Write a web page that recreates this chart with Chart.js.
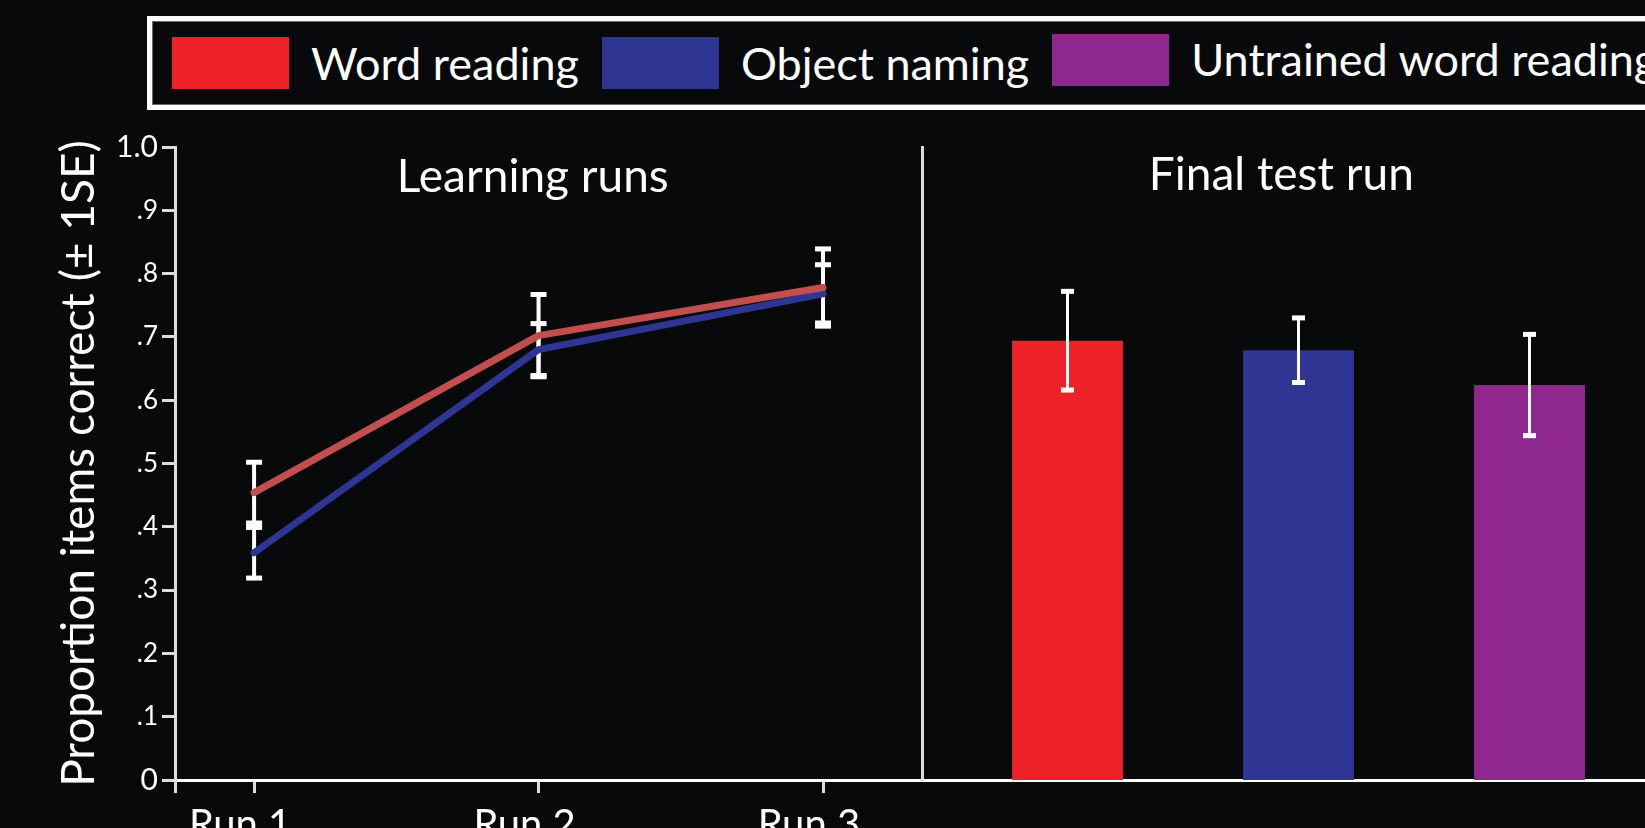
<!DOCTYPE html>
<html>
<head>
<meta charset="utf-8">
<script src="https://cdn.jsdelivr.net/npm/chart.js@4"></script>
<style>
  html, body { margin:0; padding:0; width:1645px; height:828px; overflow:hidden; background:#08090a; }
  #legend { position:absolute; left:147px; top:16px; width:1600px; height:84px; border:5px solid #fff;
            box-shadow: inset 0 0 0 1px #6a6a6a; display:flex; align-items:center; font-family:Lato, sans-serif; }
  .sw { width:117px; height:52px; flex:none; }
  .lt { color:#fff; font-size:45px; line-height:1; white-space:nowrap; margin-left:22px; margin-right:23px; }
  #left { position:absolute; left:0; top:120px; }
  #right { position:absolute; left:912px; top:120px; }
</style>
</head>
<body>
<div id="legend"></div>
<canvas id="left" width="932" height="740"></canvas>
<canvas id="right" width="733" height="740"></canvas>
<script>
// ---- data ----
const runLabels = ['Run 1', 'Run 2', 'Run 3'];
const wordReadingLearn = [0.454, 0.702, 0.778];
const wordReadingLearnSE = [0.048, 0.065, 0.061];
const objectNamingLearn = [0.359, 0.680, 0.768];
const objectNamingLearnSE = [0.040, 0.041, 0.046];
const finalConditions = ['Word reading', 'Object naming', 'Untrained word reading'];
const finalTest = [0.694, 0.679, 0.624];
const finalTestSE = [0.078, 0.051, 0.080];
const yTickLabels = ['0', '.1', '.2', '.3', '.4', '.5', '.6', '.7', '.8', '.9', '1.0'];
const conditionColors = ['#ee2028', '#2e3592', '#8e288f'];
const lineColors = ['#c24e4e', '#2e3592'];
const yAxisTitle = 'Proportion items correct (\u00B1 1SE)';
const panelTitles = ['Learning runs', 'Final test run'];

Chart.defaults.font.family = 'Lato, sans-serif';
Chart.defaults.color = '#fff';

// ---- HTML legend built from the series ----
const leg = document.getElementById('legend');
finalConditions.forEach((name, i) => {
  const sw = document.createElement('span');
  sw.className = 'sw';
  sw.style.background = conditionColors[i];
  sw.style.marginLeft = i === 0 ? '20px' : '0';
  if (i === 2) sw.style.transform = 'translateY(-3px)';
  const t = document.createElement('span');
  t.className = 'lt';
  t.textContent = name;
  if (i === 2) t.style.transform = 'translateY(-4px)';
  leg.appendChild(sw); leg.appendChild(t);
});

// ---- plugins ----
const errorBars = {
  id: 'errorBars',
  drawBars(chart, opts) {
    const {ctx} = chart;
    const yScale = chart.scales.y;
    chart.data.datasets.forEach((ds, di) => {
      if (!ds.errors) return;
      const meta = chart.getDatasetMeta(di);
      meta.data.forEach((el, i) => {
        const v = ds.data[i].y;
        const e = ds.errors[i];
        const x = el.x;
        const yt = yScale.getPixelForValue(v + e);
        const yb = yScale.getPixelForValue(v - e);
        ctx.save();
        ctx.strokeStyle = '#fff';
        ctx.lineWidth = opts.lineWidth;
        ctx.beginPath(); ctx.moveTo(x, yt); ctx.lineTo(x, yb); ctx.stroke();
        ctx.fillStyle = '#fff';
        ctx.fillRect(x - opts.capWidth / 2, yt - 2.5, opts.capWidth, 5);
        ctx.fillRect(x - opts.capWidth / 2, yb - 2.5, opts.capWidth, 5);
        ctx.restore();
      });
    });
  },
  beforeDatasetsDraw(chart, args, opts) { if (opts.under) this.drawBars(chart, opts); },
  afterDatasetsDraw(chart, args, opts) { if (!opts.under) this.drawBars(chart, opts); }
};

const panelTitle = {
  id: 'panelTitle',
  afterDraw(chart, args, opts) {
    const {ctx, chartArea} = chart;
    ctx.save();
    ctx.font = opts.size + 'px Lato, sans-serif';
    ctx.fillStyle = '#fff';
    ctx.textAlign = 'center';
    ctx.textBaseline = 'alphabetic';
    ctx.fillText(opts.text, chartArea.left + opts.xFrac * (chartArea.right - chartArea.left), chartArea.top + opts.dy);
    ctx.restore();
  }
};

// ---- left: learning runs ----
const xMinLeft = 0.722;
new Chart(document.getElementById('left'), {
  type: 'line',
  plugins: [errorBars, panelTitle],
  data: {
    datasets: [
      { label: finalConditions[0], data: wordReadingLearn.map((v, i) => ({x: i + 1, y: v})),
        errors: wordReadingLearnSE, borderColor: lineColors[0], borderWidth: 7, pointRadius: 0,
        borderCapStyle: 'round', borderJoinStyle: 'round', tension: 0, order: 1 },
      { label: finalConditions[1], data: objectNamingLearn.map((v, i) => ({x: i + 1, y: v})),
        errors: objectNamingLearnSE, borderColor: lineColors[1], borderWidth: 7, pointRadius: 0,
        borderCapStyle: 'round', borderJoinStyle: 'round', tension: 0, order: 2 }
    ]
  },
  options: {
    responsive: false, animation: false,
    layout: { padding: { left: 52, top: 27, right: 10, bottom: 0 } },
    plugins: {
      legend: { display: false }, tooltip: { enabled: false },
      errorBars: { under: true, lineWidth: 4, capWidth: 16 },
      panelTitle: { text: panelTitles[0], size: 46, xFrac: 0.479, dy: 45 }
    },
    scales: {
      x: {
        type: 'linear', min: xMinLeft, max: 3.348, offset: false,
        afterBuildTicks: s => { s.ticks = [{value: xMinLeft}].concat(runLabels.map((_, i) => ({value: i + 1}))); },
        afterFit: s => { s.height = 80; },
        ticks: { callback: v => runLabels[v - 1] || '', font: { size: 40 }, color: '#fff', padding: 8,
                 labelOffset: -14, maxRotation: 0, autoSkip: false },
        grid: { drawOnChartArea: false, tickLength: 13, color: '#ddd', lineWidth: 3 },
        border: { display: true, color: '#fff', width: 3 }
      },
      y: {
        min: 0, max: 1,
        ticks: { stepSize: 0.1, callback: (v, i) => yTickLabels[i], color: '#fff', padding: 4,
                 font: ctx => ({ size: (ctx.index === 0 || ctx.index === 10) ? 30 : 26 }) },
        afterFit: s => { s.width = 123; },
        grid: { drawOnChartArea: false, tickLength: 13, color: '#ddd', lineWidth: 3 },
        border: { display: true, color: '#ddd', width: 3 },
        title: { display: true, text: yAxisTitle, font: { size: 46 }, color: '#fff', padding: 0 }
      }
    }
  }
});

// ---- right: final test run ----
new Chart(document.getElementById('right'), {
  type: 'bar',
  plugins: [errorBars, panelTitle],
  data: {
    datasets: [{
      label: 'Final test run',
      data: finalTest.map((v, i) => ({x: i + 1, y: v})),
      errors: finalTestSE,
      backgroundColor: conditionColors,
      borderWidth: 0,
      barPercentage: 0.48, categoryPercentage: 1
    }]
  },
  options: {
    responsive: false, animation: false,
    layout: { padding: { left: 10, top: 27, right: 0, bottom: 0 } },
    plugins: {
      legend: { display: false }, tooltip: { enabled: false },
      errorBars: { under: false, lineWidth: 3, capWidth: 13 },
      panelTitle: { text: panelTitles[1], size: 46, xFrac: 0.497, dy: 43 }
    },
    scales: {
      x: {
        type: 'linear', min: 0.37, max: 3.5, offset: false,
        afterBuildTicks: s => { s.ticks = finalConditions.map((_, i) => ({value: i + 1})); },
        afterFit: s => { s.height = 80; },
        ticks: { display: false },
        grid: { display: false },
        border: { display: true, color: '#fff', width: 3 }
      },
      y: {
        min: 0, max: 1,
        ticks: { display: false },
        afterFit: s => { s.width = 0; },
        grid: { display: false },
        border: { display: true, color: '#ddd', width: 3 }
      }
    }
  }
});
</script>
</body>
</html>
